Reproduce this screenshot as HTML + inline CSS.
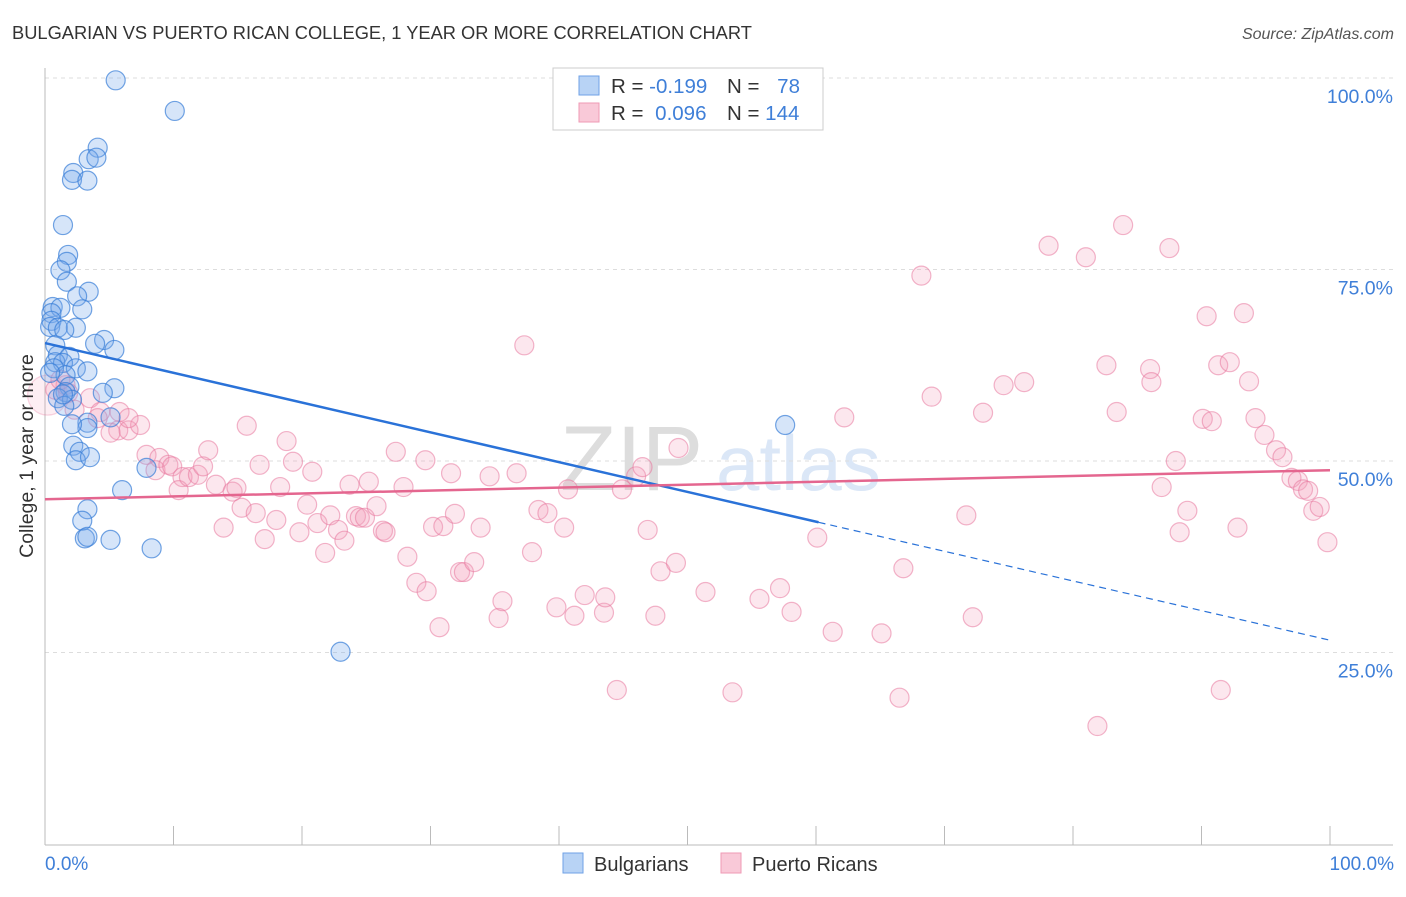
<!DOCTYPE html>
<html><head><meta charset="utf-8"><style>
body{margin:0;background:#fff;font-family:"Liberation Sans",sans-serif;}
svg text{font-family:"Liberation Sans",sans-serif;}
</style></head><body>
<svg id="chart" width="1406" height="892">
<text x="12" y="39" font-size="18.3" fill="#333">BULGARIAN VS PUERTO RICAN COLLEGE, 1 YEAR OR MORE CORRELATION CHART</text>
<text x="1394" y="39" font-size="16" fill="#555" text-anchor="end" font-style="italic">Source: ZipAtlas.com</text>
<text x="560" y="490" font-size="92" fill="#ddd" font-family="Liberation Serif">ZIP</text>
<text x="716" y="490" font-size="78" fill="#dbe7f7">atlas</text>
<g id="grid"></g>
<g id="axes"></g>
<g id="pts"></g>
<g id="trend"></g>
<g>
<rect x="553" y="68" width="270" height="62" fill="#fff" stroke="#ccc"/>
<rect x="579" y="76" width="20" height="19" fill="#b8d3f5" stroke="#6fa2e6"/>
<rect x="579" y="103" width="20" height="19" fill="#f9c9d8" stroke="#ef9ab5"/>
<text x="611" y="93" font-size="20.5" fill="#333">R = <tspan fill="#3f7fd8">-0.199</tspan></text>
<text x="727" y="93" font-size="20.5" fill="#333">N = <tspan fill="#3f7fd8" dx="12">78</tspan></text>
<text x="611" y="120" font-size="20.5" fill="#333">R = <tspan fill="#3f7fd8" dx="6">0.096</tspan></text>
<text x="727" y="120" font-size="20.5" fill="#333">N = <tspan fill="#3f7fd8">144</tspan></text>
</g>
<text x="33" y="456" font-size="19.5" fill="#333" text-anchor="middle" transform="rotate(-90 33 456)">College, 1 year or more</text>
<text x="45" y="870" font-size="19" fill="#3f7fd8">0.0%</text>
<text x="1394" y="870" font-size="19" fill="#3f7fd8" text-anchor="end">100.0%</text>
<g>
<rect x="563" y="853" width="20" height="20" fill="#b8d3f5" stroke="#6fa2e6"/>
<text x="594" y="871" font-size="20" fill="#333">Bulgarians</text>
<rect x="721" y="853" width="20" height="20" fill="#f9c9d8" stroke="#ef9ab5"/>
<text x="752" y="871" font-size="20" fill="#333">Puerto Ricans</text>
</g>
</svg>
<script>
const yTicks=[25,50,75,100];
const yTickLabels=["25.0%","50.0%","75.0%","100.0%"];
const xTicks=[0,10,20,30,40,50,60,70,80,90,100];
const blueX=[5.5,10.1,4.1,3.4,4.0,2.2,2.1,3.3,1.4,1.8,1.7,1.2,1.7,3.4,2.5,0.6,1.2,2.9,0.5,0.5,0.4,1.0,2.4,1.5,4.6,3.9,5.4,0.8,1.0,1.9,0.8,1.4,2.4,3.3,0.7,1.6,0.4,1.9,5.4,4.5,1.6,1.0,2.1,1.5,3.3,5.1,3.3,2.1,2.2,2.7,2.4,3.5,57.6,7.9,6.0,3.3,2.9,3.1,3.3,5.1,8.3,23.0,1.4];
const blueY=[99.7,95.7,90.9,89.4,89.6,87.6,86.7,86.6,80.8,76.9,76.0,74.9,73.4,72.1,71.5,70.1,70.0,69.8,69.3,68.3,67.5,67.4,67.4,67.1,65.8,65.3,64.5,65.1,63.8,63.6,62.9,62.8,62.1,61.7,62.1,61.2,61.5,59.7,59.5,58.9,59.0,58.2,58.0,57.2,55.0,55.7,54.3,54.8,52.0,51.2,50.1,50.5,54.7,49.1,46.2,43.7,42.2,39.9,40.1,39.7,38.6,25.1,58.7];
const pinkX=[0.2,0.8,1.6,1.8,1.2,3.5,2.3,4.3,4.1,5.8,5.7,6.5,7.4,5.1,6.5,7.9,8.9,8.6,9.6,9.9,10.7,10.4,11.2,11.9,12.3,12.7,13.3,13.9,14.6,14.9,15.3,15.7,16.4,16.7,17.1,18.0,18.3,18.8,19.3,19.8,20.4,20.8,21.2,21.8,22.2,22.8,23.3,23.7,24.2,24.5,24.9,25.2,25.8,26.3,26.5,27.3,27.9,28.2,28.9,29.6,29.7,30.2,30.7,31.0,31.6,31.9,32.3,32.6,33.4,33.9,34.6,35.3,35.6,36.7,37.3,37.9,38.4,39.1,39.8,40.4,40.7,41.2,42.0,43.5,43.6,44.5,44.9,46.0,46.5,46.9,47.5,47.9,49.1,49.3,51.4,53.5,55.6,57.2,58.1,60.1,61.3,62.2,65.1,66.5,66.8,68.2,69.0,71.7,72.2,73.0,74.6,76.2,78.1,81.0,81.9,82.6,83.4,83.9,86.0,86.1,86.9,87.5,88.0,88.3,88.9,90.1,90.4,90.8,91.3,91.5,92.2,92.8,93.3,93.7,94.2,94.9,95.8,96.3,97.0,97.5,97.9,98.3,98.7,99.2,99.8];
const pinkY=[58.6,59.3,59.9,58.9,60.6,58.2,56.7,56.4,55.6,56.4,54.0,54.0,54.7,53.7,55.6,50.8,50.4,48.8,49.5,49.3,47.9,46.2,47.9,48.2,49.3,51.4,46.9,41.3,46.0,46.5,43.9,54.6,43.2,49.5,39.8,42.3,46.6,52.6,49.9,40.7,44.3,48.6,41.9,38.0,42.9,41.0,39.6,46.9,42.8,42.6,42.6,47.3,44.1,40.9,40.7,51.2,46.6,37.5,34.1,50.1,33.0,41.4,28.3,41.5,48.4,43.1,35.5,35.5,36.8,41.3,48.0,29.5,31.7,48.4,65.1,38.1,43.6,43.2,30.9,41.3,46.3,29.8,32.5,30.2,32.2,20.1,46.3,48.0,49.2,41.0,29.8,35.6,36.7,51.7,32.9,19.8,32.0,33.4,30.3,40.0,27.7,55.7,27.5,19.1,36.0,74.2,58.4,42.9,29.6,56.3,59.9,60.3,78.1,76.6,15.4,62.5,56.4,80.8,62.0,60.3,46.6,77.8,50.0,40.7,43.5,55.5,68.9,55.2,62.5,20.1,62.9,41.3,69.3,60.4,55.6,53.4,51.4,50.5,47.8,47.4,46.3,46.1,43.5,44.0,39.4];
const blueTrend=[65.4,42.0,26.6];
const blueTrendX=[0,60.2,100];
const pinkTrend=[45.0,48.8];
const pinkTrendX=[0,100];

const NS="http://www.w3.org/2000/svg";
const X=v=>45+v*12.85;
const Y=v=>78+(100-v)*7.66;
function mk(tag,attrs,parent){const e=document.createElementNS(NS,tag);for(const k in attrs)e.setAttribute(k,attrs[k]);parent.appendChild(e);return e;}
const grid=document.getElementById('grid'),axes=document.getElementById('axes'),pts=document.getElementById('pts'),trend=document.getElementById('trend');
yTicks.forEach((t,i)=>{
  const l=mk('line',{x1:45,x2:1393,y1:Y(t),y2:Y(t),stroke:'#ddd','stroke-dasharray':'4,4'},grid);
  
  
  const tx=mk('text',{x:1393,y:Y(t)+25,'font-size':19.5,fill:'#3f7fd8','text-anchor':'end'},grid);
  tx.textContent=yTickLabels[i];
  
  
});
const ya=mk('line',{x1:45,x2:45,y1:68,y2:845,stroke:'#bbb'},axes);


const xa=mk('line',{x1:45,x2:1393,y1:845,y2:845,stroke:'#bbb'},axes);


xTicks.forEach(t=>{
  const l=mk('line',{x1:X(t),x2:X(t),y1:826,y2:845,stroke:'#bbb'},axes);
  
  
});
pinkX.forEach((x,i)=>{
  const big=i===0;
  const c=mk('circle',{cx:X(x),cy:Y(pinkY[i]),r:big?20:9.5,fill:big?'rgba(244,160,188,0.18)':'rgba(244,160,188,0.25)',stroke:big?'rgba(232,120,158,0.3)':'rgba(232,120,158,0.55)','stroke-width':1.2},pts);
  
  
});
blueX.forEach((x,i)=>{
  const c=mk('circle',{cx:X(x),cy:Y(blueY[i]),r:9.5,fill:'rgba(120,170,235,0.3)',stroke:'rgba(55,125,215,0.7)','stroke-width':1.2},pts);
  
  
});
const b1=mk('line',{x1:X(blueTrendX[0]),y1:Y(blueTrend[0]),x2:X(blueTrendX[1]),y2:Y(blueTrend[1]),stroke:'#2a72d8','stroke-width':2.5},trend);


const b2=mk('line',{x1:X(blueTrendX[1]),y1:Y(blueTrend[1]),x2:X(blueTrendX[2]),y2:Y(blueTrend[2]),stroke:'#2a72d8','stroke-width':1.2,'stroke-dasharray':'7,5'},trend);


const p1=mk('line',{x1:X(pinkTrendX[0]),y1:Y(pinkTrend[0]),x2:X(pinkTrendX[1]),y2:Y(pinkTrend[1]),stroke:'#e4668f','stroke-width':2.5},trend);


</script>
</body></html>
